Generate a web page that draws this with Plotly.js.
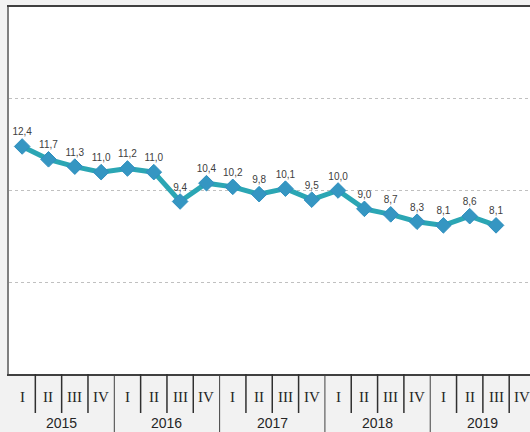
<!DOCTYPE html>
<html>
<head>
<meta charset="utf-8">
<script src="https://cdn.plot.ly/plotly-3.0.1.min.js"></script>
<style>html,body{margin:0;padding:0;background:#f2f2f2;}#chart{width:530px;height:432px;}</style>
</head>
<body>
<div id="chart"></div>
<script>
const years = ['2015', '2016', '2017', '2018', '2019'];
const quarters = ['I', 'II', 'III', 'IV'];
const values = [12.4, 11.7, 11.3, 11.0, 11.2, 11.0, 9.4, 10.4, 10.2, 9.8, 10.1, 9.5, 10.0, 9.0, 8.7, 8.3, 8.1, 8.6, 8.1, null];

const cats = [];
years.forEach(y => quarters.forEach(q => cats.push(q + ' ' + y)));

const plotH = 432 - 7 - 58;
const shapes = [];
for (let k = 1; k < cats.length; k++) {
  const isYear = k % quarters.length === 0;
  shapes.push({
    type: 'line', xref: 'x', yref: 'paper',
    x0: k - 0.5, x1: k - 0.5, y0: 0, y1: isYear ? -60 / plotH : -39 / plotH,
    line: {color: isYear ? '#404040' : '#303030', width: isYear ? 1 : 1.5}
  });
}
const annotations = [];
cats.forEach((c, i) => {
  annotations.push({
    xref: 'x', yref: 'paper', x: i, y: -23 / plotH, yanchor: 'middle', xanchor: 'center',
    text: quarters[i % quarters.length], showarrow: false,
    font: {family: 'Liberation Serif, serif', size: 15, color: '#262626'}
  });
});
years.forEach((y, j) => {
  annotations.push({
    xref: 'x', yref: 'paper', x: j * quarters.length + (quarters.length - 1) / 2, y: -58 / plotH,
    yanchor: 'bottom', xanchor: 'center', text: y, showarrow: false, borderpad: 0,
    font: {family: 'Liberation Sans, Arial, sans-serif', size: 14, color: '#262626'}
  });
});

const trace = {
  type: 'scatter', mode: 'lines+markers+text',
  x: cats, y: values,
  line: {color: '#2ba6b4', width: 5},
  marker: {symbol: 'diamond', size: 12, color: '#3596c2', line: {color: '#2f8fbf', width: 1}},
  texttemplate: '%{y:.1f}', textposition: 'top center',
  textfont: {family: 'Liberation Sans, Arial, sans-serif', size: 10, color: '#404040'},
  cliponaxis: false, hoverinfo: 'skip', showlegend: false
};

const layout = {
  width: 530, height: 432,
  margin: {l: 9, r: 0, t: 7, b: 58, pad: 0},
  paper_bgcolor: '#f2f2f2', plot_bgcolor: '#ffffff',
  separators: ', ',
  showlegend: false,
  xaxis: {
    type: 'category', categoryorder: 'array', categoryarray: cats,
    range: [-0.5, 19.29], showticklabels: false, ticks: '', showgrid: false,
    showline: true, mirror: true, linecolor: '#404040', linewidth: 2, zeroline: false, fixedrange: true
  },
  yaxis: {
    range: [0, 20], dtick: 5, tick0: 0, showticklabels: false, ticks: '',
    showgrid: true, gridcolor: '#c0c0c0', griddash: 'dot', gridwidth: 1,
    showline: true, linecolor: '#7f7f7f', linewidth: 2, zeroline: false, fixedrange: true
  },
  shapes: shapes,
  annotations: annotations
};

Plotly.newPlot('chart', [trace], layout, {displayModeBar: false, staticPlot: true});
</script>
</body>
</html>
